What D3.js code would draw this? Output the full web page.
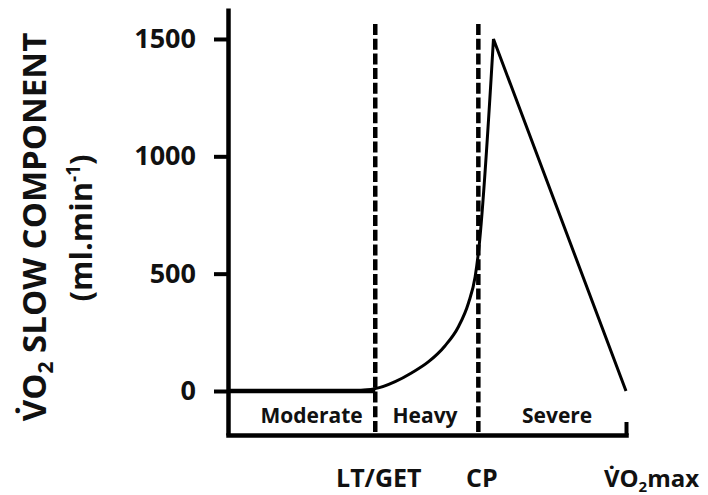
<!DOCTYPE html>
<html>
<head>
<meta charset="utf-8">
<script src="https://cdn.jsdelivr.net/npm/d3@7"></script>
<style>
  body { margin: 0; background: #fff; }
  text { font-family: "Open Sans", sans-serif; font-weight: bold; fill: #111; }
</style>
</head>
<body>
<div id="chart"></div>
<script>
// Thresholds along the intensity axis (0 = rest, 100 = VO2max)
const thresholdNames = ["LT/GET", "CP", "VO2max"];
const thresholdValues = [37, 62.9, 100];

// Intensity domains
const zoneNames = ["Moderate", "Heavy", "Severe"];
const zoneCenters = [21, 49.5, 82.7];

// Slow component amplitude (ml.min-1)
const moderateX = [0, 37];
const moderateY = [0, 0];
const heavyX = [31, 37, 42, 46.2, 50.4, 54.5, 57.9, 60.4, 62.1, 62.9, 66.7];
const heavyY = [0, 10, 40, 78, 125, 192, 274, 374, 487, 587, 1500];
const severeX = [66.7, 100];
const severeY = [1500, 0];

const yTicks = [0, 500, 1000, 1500];

function pageLoad() {

  const width = 708;
  const height = 495;

  const svg = d3.select("#chart")
    .append("svg")
      .attr("width", width)
      .attr("height", height);

  const x = d3.scaleLinear()
    .domain([0, 100])
    .range([228, 626]);

  // 0 sits at 391px, 1500 at 39px; the axis runs a bit past both
  const y = d3.scaleLinear()
    .domain([-187.5, 1632])
    .range([435, 8]);

  // dashed threshold lines (LT/GET and CP)
  svg.append("g")
    .selectAll("line")
    .data(thresholdValues.slice(0, 2))
    .join("line")
      .attr("x1", d => x(d))
      .attr("x2", d => x(d))
      .attr("y1", 24)
      .attr("y2", y(-187.5))
      .attr("stroke", "#000")
      .attr("stroke-width", 4.5)
      .attr("stroke-dasharray", "11,3.7");

  // Y axis
  const yAxis = svg.append("g")
    .attr("transform", "translate(" + x(0) + ",0)")
    .call(d3.axisLeft(y)
      .tickValues(yTicks)
      .tickFormat(d3.format("d"))
      .tickSizeInner(14)
      .tickSizeOuter(0)
      .tickPadding(18));
  yAxis.select(".domain").attr("stroke-width", 4.5);
  yAxis.selectAll(".tick line").attr("stroke-width", 4);
  yAxis.selectAll(".tick text")
    .style("font-family", "'Open Sans', sans-serif")
    .style("font-weight", "bold")
    .style("font-size", "27px")
    .attr("fill", "#111");

  // X axis, only the VO2max tick is drawn (pointing up)
  const xAxis = svg.append("g")
    .attr("transform", "translate(0," + y(-187.5) + ")")
    .call(d3.axisBottom(x)
      .tickValues(thresholdValues)
      .tickSizeInner(-13)
      .tickSizeOuter(0)
      .tickFormat(""));
  xAxis.select(".domain").attr("stroke-width", 4.5).attr("stroke-linecap", "square");
  xAxis.selectAll(".tick line")
    .attr("stroke-width", 4)
    .attr("opacity", (d, i) => i === 2 ? 1 : 0);

  const labelShift = [3, 3, 25];
  xAxis.selectAll(".tick text")
    .attr("y", 52)
    .attr("dy", 0)
    .attr("dx", (d, i) => labelShift[i])
    .style("font-family", "'Open Sans', sans-serif")
    .style("font-weight", "bold")
    .style("font-size", (d, i) => i === 2 ? "24px" : "25px")
    .attr("fill", "#111")
    .each(function (d, i) {
      const t = d3.select(this);
      if (thresholdNames[i] === "VO2max") {
        t.append("tspan").text("V\u0307O");
        t.append("tspan").text("2").attr("font-size", "15px").attr("dy", 5);
        t.append("tspan").text("max").attr("dy", -5);
      } else {
        t.text(thresholdNames[i]);
      }
    });

  // zone labels
  svg.append("g")
    .selectAll("text")
    .data(zoneNames)
    .join("text")
      .attr("x", (d, i) => x(zoneCenters[i]))
      .attr("y", 423)
      .attr("text-anchor", "middle")
      .style("font-size", "21px")
      .text(d => d);

  // slow component curve
  const line = d3.line()
    .x(d => x(d[0]))
    .y(d => y(d[1]));

  svg.append("path")
    .datum(d3.zip(moderateX, moderateY))
    .attr("fill", "none")
    .attr("stroke", "#000")
    .attr("stroke-width", 4.5)
    .attr("d", line);

  const heavyLine = d3.line()
    .curve(d3.curveMonotoneX)
    .x(d => x(d[0]))
    .y(d => y(d[1]));
  const severePts = d3.zip(severeX, severeY);

  svg.append("path")
    .attr("fill", "none")
    .attr("stroke", "#000")
    .attr("stroke-width", 3)
    .attr("stroke-linejoin", "miter")
    .attr("d", heavyLine(d3.zip(heavyX, heavyY)) +
      severePts.slice(1).map(p => "L" + x(p[0]) + "," + y(p[1])).join(""));

  // Y axis title
  const title = svg.append("text")
    .attr("transform", "translate(46,227) rotate(-90)")
    .attr("text-anchor", "middle")
    .style("font-size", "33px");
  title.append("tspan").text("V\u0307O");
  title.append("tspan").text("2").style("font-size", "21px").attr("dy", 7);
  title.append("tspan").text(" SLOW COMPONENT").attr("dy", -7);

  const unit = svg.append("text")
    .attr("transform", "translate(92,228) rotate(-90)")
    .attr("text-anchor", "middle")
    .style("font-size", "31px");
  unit.append("tspan").text("(ml.min");
  unit.append("tspan").text("-1").style("font-size", "19px").attr("dy", -12);
  unit.append("tspan").text(")").attr("dy", 12);
}

window.addEventListener("load", pageLoad);
</script>
</body>
</html>
